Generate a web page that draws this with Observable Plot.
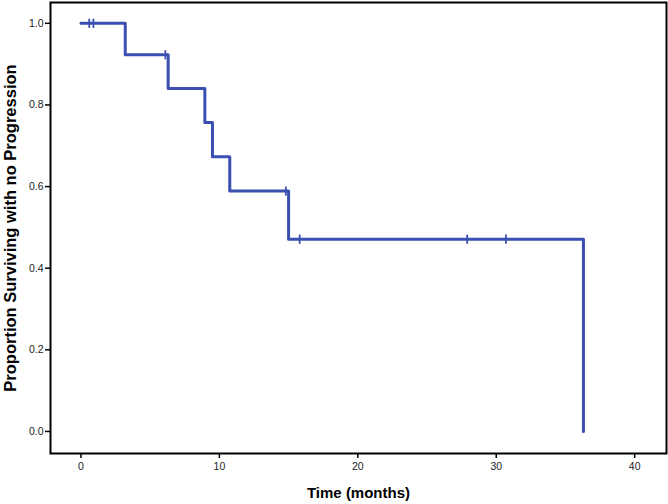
<!DOCTYPE html>
<html>
<head>
<meta charset="utf-8">
<script src="https://cdn.jsdelivr.net/npm/d3@7"></script>
<script src="https://cdn.jsdelivr.net/npm/@observablehq/plot@0.6"></script>
<style>
  html, body { margin: 0; padding: 0; background: #fff; }
  #chart svg { display: block; }
  g[aria-label="y-axis label"] text { font-weight: bold; font-size: 16.5px; fill: #000; }
  g[aria-label="x-axis label"] text { font-weight: bold; font-size: 15px; fill: #000; }
</style>
</head>
<body>
<div id="chart"></div>
<script>
// Kaplan–Meier step points (time in months, proportion surviving)
const eventTimes = [0, 3.2, 6.3, 8.95, 9.5, 10.75, 15.0, 36.3];
const survival   = [1.0, 0.923, 0.840, 0.757, 0.673, 0.589, 0.471, 0.0];
// Censored observations
const censorTimes = [0.6, 0.9, 6.1, 14.8, 15.8, 27.9, 30.7];
const censorSurv  = [1.0, 1.0, 0.923, 0.589, 0.471, 0.471, 0.471];
const xTicks = [0, 10, 20, 30, 40];
const yTicks = [0.0, 0.2, 0.4, 0.6, 0.8, 1.0];

const steps = eventTimes.map((t, i) => ({t, s: survival[i]}));
const censors = censorTimes.map((t, i) => ({t, s: censorSurv[i]}));

const vbar = {
  draw(context, size) {
    const h = Math.sqrt(size);
    context.moveTo(0, -h);
    context.lineTo(0, h);
  }
};

const color = "#3a4fb0";

const chart = Plot.plot({
  width: 668,
  height: 504,
  marginLeft: 50,
  marginRight: 2,
  marginTop: 2,
  marginBottom: 51,
  style: {fontFamily: "Liberation Sans, Arial, sans-serif", fontSize: "10.5px", color: "#222", background: "#fff"},
  x: {domain: [-2.2, 42.3]},
  y: {domain: [-0.054, 1.051]},
  marks: [
    Plot.axisX({ticks: xTicks, tickSize: 5, tickPadding: 4, stroke: "#000", strokeWidth: 1.5,
      label: "Time (months)", labelAnchor: "center", labelArrow: "none", labelOffset: 44}),
    Plot.axisY({ticks: yTicks, tickFormat: d3.format(".1f"), tickSize: 5, tickPadding: 2, stroke: "#000", strokeWidth: 1.5,
      label: "Proportion Surviving with no Progression", labelAnchor: "center", labelArrow: "none", labelOffset: 46}),
    Plot.line(steps, {x: "t", y: "s", curve: "step-after", stroke: color, strokeWidth: 3}),
    Plot.dot(censors, {x: "t", y: "s", symbol: vbar, r: 2.6, stroke: color, strokeWidth: 1.8}),
    Plot.frame({stroke: "#000", strokeWidth: 2})
  ]
});
document.getElementById("chart").appendChild(chart);
</script>
</body>
</html>
